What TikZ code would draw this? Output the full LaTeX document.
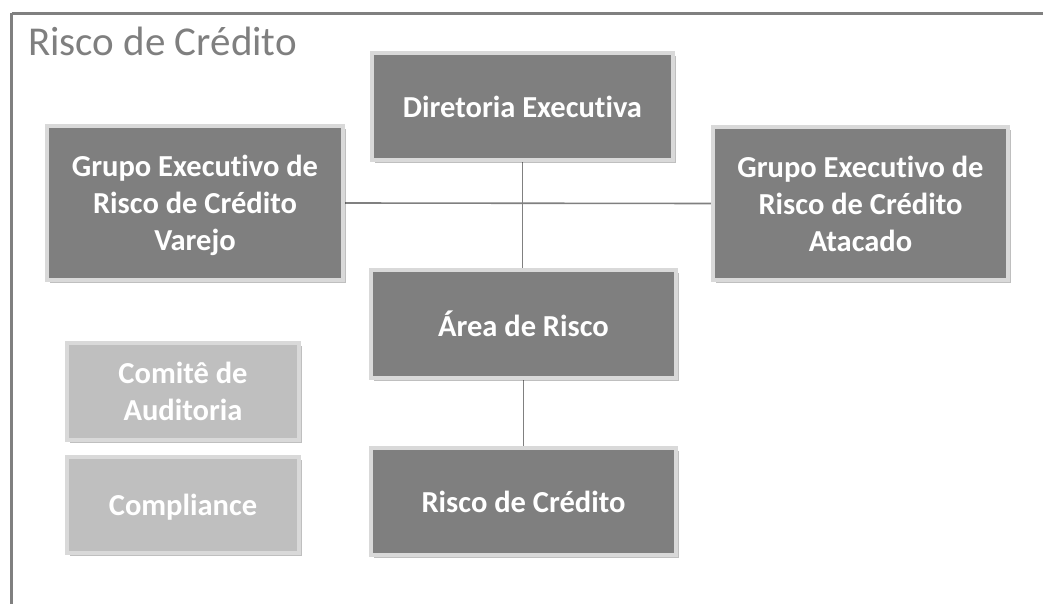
\documentclass[tikz,border=0pt]{standalone}
\usepackage{fontspec}
\setmainfont{Carlito}[Ligatures={NoCommon}]
\usetikzlibrary{shadows,backgrounds}
\definecolor{darkbox}{HTML}{7F7F7F}
\definecolor{lightbox}{HTML}{BFBFBF}
\definecolor{rim}{HTML}{D9D9D9}
\definecolor{frameg}{HTML}{808080}
\tikzset{
  orgbox/.style={rectangle, draw=rim, line width=3.5pt, fill=darkbox, text=white,
    font=\fontsize{30.5}{37}\selectfont\bfseries, align=center, inner sep=0pt,
    drop shadow={shadow xshift=3pt, shadow yshift=-3pt, fill=black, opacity=0.25}},
  sidebox/.style={orgbox, fill=lightbox},
  link/.style={draw=frameg, line width=1.6pt},
}
\begin{document}
\begin{tikzpicture}[x=1pt,y=-1pt]
\useasboundingbox (0,0) rectangle (1043,604);
\node[orgbox, minimum width=301pt, minimum height=107pt] (dir) at (522.5,106.5) {Diretoria Executiva};
\node[orgbox, minimum width=296pt, minimum height=154pt] (var) at (195,203) {Grupo Executivo de\\Risco de Crédito\\\smash{Varejo}};
\node[orgbox, minimum width=295pt, minimum height=153pt] (ata) at (860.5,203.5) {Grupo Executivo de\\Risco de Crédito\\Atacado};
\node[orgbox, minimum width=305pt, minimum height=108pt] (area) at (523.5,324) {Área de Risco};
\node[orgbox, minimum width=305pt, minimum height=107pt] (risco) at (523.5,501.5) {Risco de Crédito};
\node[sidebox, minimum width=232pt, minimum height=97pt] (comite) at (183,391.5) {Comitê de\\Auditoria};
\node[sidebox, minimum width=232pt, minimum height=96pt, text depth=0pt] (comp) at (183,505) {Compliance};
\node[anchor=base west, text=darkbox, font=\fontsize{41}{48}\selectfont, inner sep=0pt] (title) at (28,56) {Risco de Crédito};
\begin{scope}[on background layer]
  \draw[draw=frameg, line width=3pt] (11.5,13.5) -- (1060,13.5);
  \draw[draw=frameg, line width=3pt] (11.5,13.5) -- (11.5,620);
  \path[link] (dir.south) -- (dir.south |- area.north);
  \path[link] (var.east) -- (ata.west);
  \path[link] (area.south) -- (area.south |- risco.north);
\end{scope}
\end{tikzpicture}
\end{document}
